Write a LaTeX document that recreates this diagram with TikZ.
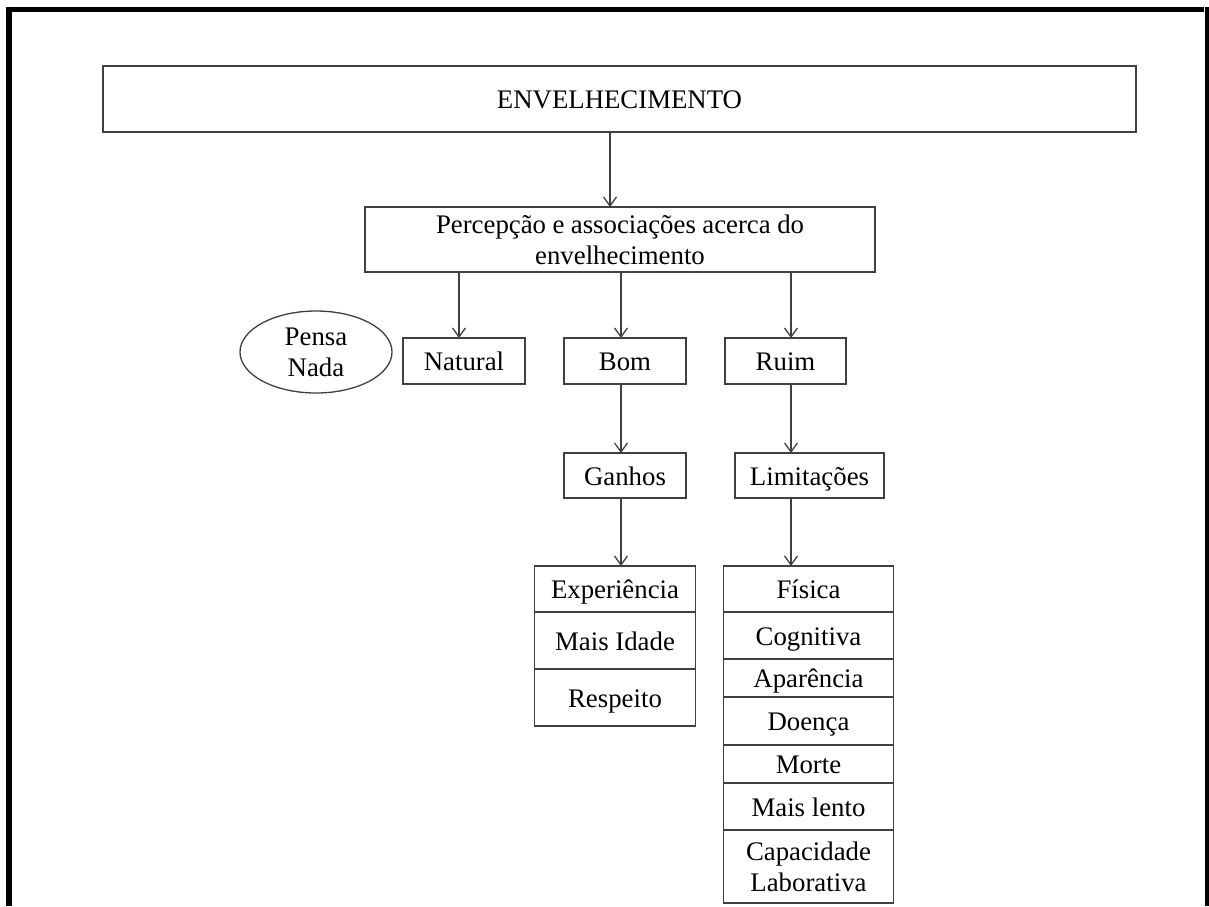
\documentclass[tikz,border=0pt]{standalone}
\usepackage{fontspec}
\setmainfont{Liberation Serif}
\usetikzlibrary{arrows.meta,shapes.geometric}
\begin{document}
\begin{tikzpicture}[x=1pt,y=-1pt,
  base/.style={draw=black!75, line width=1.3pt, inner sep=0pt, outer sep=0pt, align=center,
    font=\fontsize{26.8}{31}\selectfont},
  box/.style={base, text height=22pt, text depth=2.1pt},
  mbox/.style={base},
  cell/.style={box, anchor=north},
  mcell/.style={mbox, anchor=north},
  arr/.style={draw=black!75, line width=1.3pt, -{Straight Barb[length=9pt,width=13pt,line width=1.3pt]}},
  frame/.style={draw=black, line width=5.5pt}]
\useasboundingbox (0,0) rectangle (1209,906);
% outer frame
\draw[frame] (8.8,906) -- (8.8,9.7) -- (1204,9.7);
\draw[draw=black, line width=3.5pt] (1207,7) -- (1207,906);
% main boxes
\node[box, minimum width=1033, minimum height=66] (env) at (619.5,99) {ENVELHECIMENTO};
\node[mbox, minimum width=510, minimum height=65] (perc) at (620,239.5)
  {\makebox[368pt][s]{Percepção e associações acerca do}\\envelhecimento};
\node[mbox, ellipse, minimum width=152, minimum height=82] (pensa) at (316,352) {Pensa\\Nada};
\node[box, minimum width=122, minimum height=46] (nat) at (464,361) {Natural};
\node[box, minimum width=122, minimum height=46] (bom) at (625,361) {Bom};
\node[box, minimum width=121, minimum height=46] (ruim) at (785.5,361) {Ruim};
\node[box, minimum width=122, minimum height=45] (gan) at (625,475.5) {Ganhos};
\node[box, minimum width=149, minimum height=45] (lim) at (809.5,475.5) {Limitações};
% left list
\node[cell, minimum width=161, minimum height=46] (exp) at (615,566) {Experiência};
\node[cell, minimum width=161, minimum height=57] (mais) at (exp.south) {Mais Idade};
\node[cell, minimum width=161, minimum height=57] (resp) at (mais.south) {Respeito};
% right list
\node[cell, minimum width=170, minimum height=46] (fis) at (808.5,566) {Física};
\node[cell, minimum width=170, minimum height=47] (cog) at (fis.south) {Cognitiva};
\node[cell, minimum width=170, minimum height=38] (apa) at (cog.south) {Aparência};
\node[cell, minimum width=170, minimum height=48] (doe) at (apa.south) {Doença};
\node[cell, minimum width=170, minimum height=38] (mor) at (doe.south) {Morte};
\node[cell, minimum width=170, minimum height=47] (len) at (mor.south) {Mais lento};
\node[mcell, minimum width=170, minimum height=73] (cap) at (len.south) {Capacidade\\Laborativa};
% arrow x positions
\coordinate (x0) at (610,0);
\coordinate (x1) at (459,0);
\coordinate (x2) at (621,0);
\coordinate (x3) at (791,0);
% connectors
\draw[arr] (env.south -| x0) -- (perc.north -| x0);
\draw[arr] (perc.south -| x1) -- (nat.north -| x1);
\draw[arr] (perc.south -| x2) -- (bom.north -| x2);
\draw[arr] (perc.south -| x3) -- (ruim.north -| x3);
\draw[arr] (bom.south -| x2) -- (gan.north -| x2);
\draw[arr] (ruim.south -| x3) -- (lim.north -| x3);
\draw[arr] (gan.south -| x2) -- (exp.north -| x2);
\draw[arr] (lim.south -| x3) -- (fis.north -| x3);
\end{tikzpicture}
\end{document}
